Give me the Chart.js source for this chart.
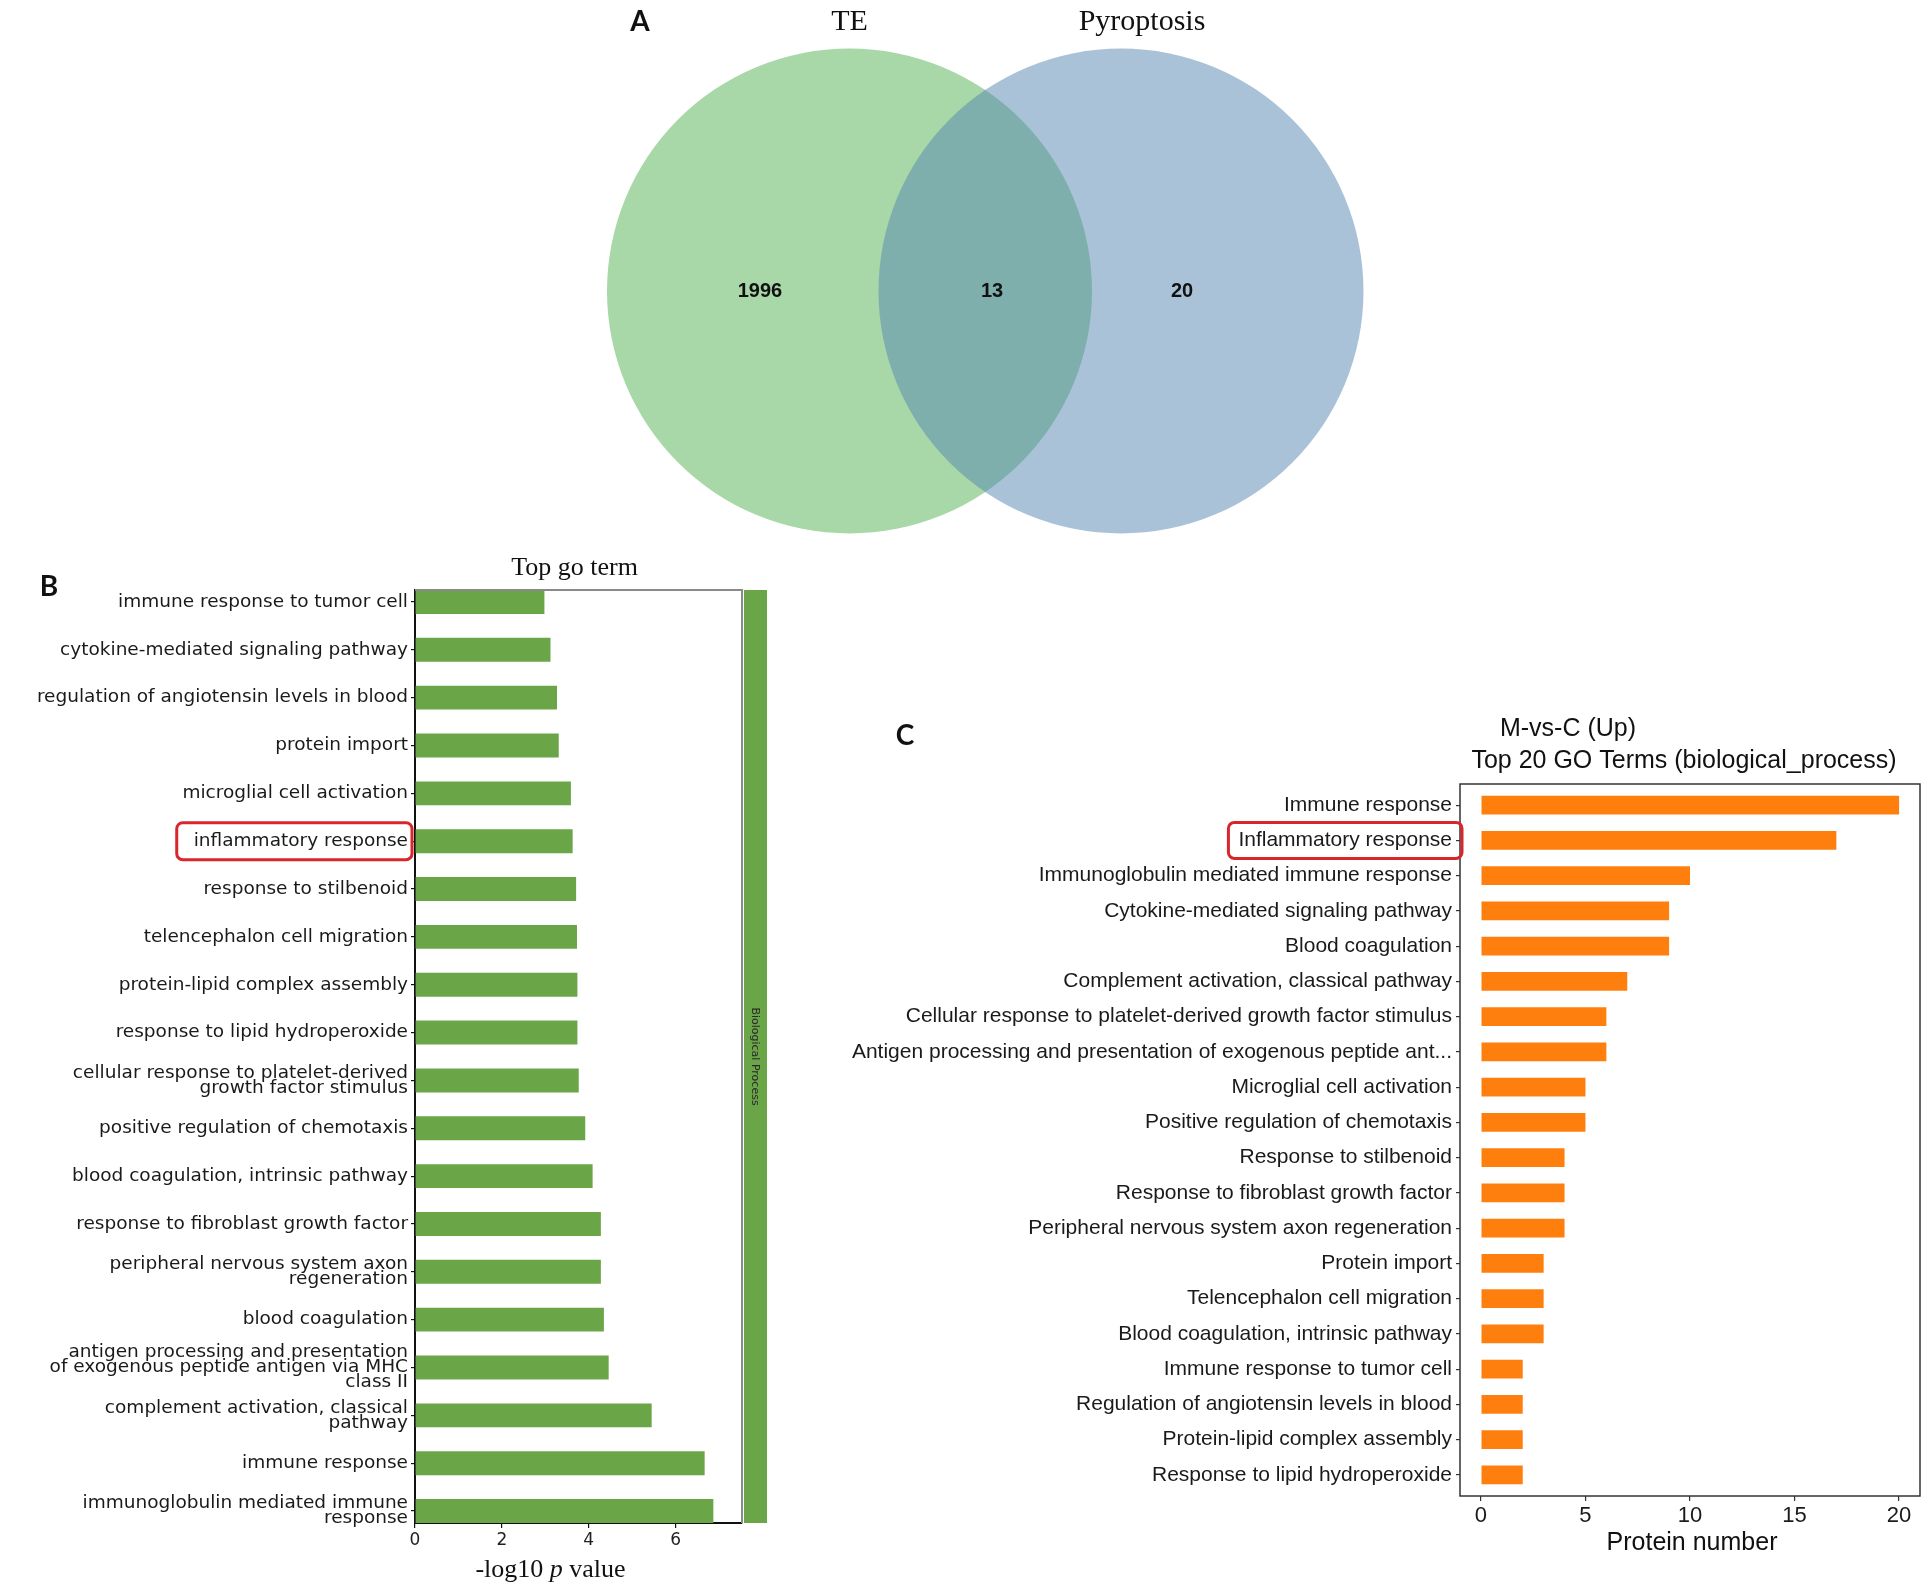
<!DOCTYPE html>
<html>
<head>
<meta charset="utf-8">
<script src="https://cdn.jsdelivr.net/npm/chart.js@4.4.1/dist/chart.umd.min.js"></script>
<style>
  html, body { margin: 0; padding: 0; background: #fff; }
  body { width: 1930px; height: 1584px; position: relative; overflow: hidden; }
  canvas { position: absolute; }
  #venn { left: 560px; top: 0; }
  #goB { left: 0; top: 540px; }
  #goC { left: 840px; top: 560px; }
</style>
</head>
<body>
<canvas id="venn" width="880" height="582"></canvas>
<canvas id="goB" width="800" height="1044"></canvas>
<canvas id="goC" width="1090" height="1024"></canvas>
<script>
// ---- data ----
const vennSets = ['TE', 'Pyroptosis'];
const vennCounts = [1996, 13, 20]; // TE only, both, Pyroptosis only

const goTermsB = [
  'immune response to tumor cell',
  'cytokine-mediated signaling pathway',
  'regulation of angiotensin levels in blood',
  'protein import',
  'microglial cell activation',
  'inflammatory response',
  'response to stilbenoid',
  'telencephalon cell migration',
  'protein-lipid complex assembly',
  'response to lipid hydroperoxide',
  ['cellular response to platelet-derived', 'growth factor stimulus'],
  'positive regulation of chemotaxis',
  'blood coagulation, intrinsic pathway',
  'response to fibroblast growth factor',
  ['peripheral nervous system axon', 'regeneration'],
  'blood coagulation',
  ['antigen processing and presentation', 'of exogenous peptide antigen via MHC', 'class II'],
  ['complement activation, classical', 'pathway'],
  'immune response',
  ['immunoglobulin mediated immune', 'response']
];
const logPB = [2.98, 3.12, 3.27, 3.31, 3.59, 3.63, 3.71, 3.73, 3.74, 3.74,
               3.77, 3.92, 4.09, 4.28, 4.28, 4.35, 4.46, 5.45, 6.67, 6.87];
const xTicksB = [0, 2, 4, 6];
const stripLabelB = 'Biological Process';

const goTermsC = [
  'Immune response',
  'Inflammatory response',
  'Immunoglobulin mediated immune response',
  'Cytokine-mediated signaling pathway',
  'Blood coagulation',
  'Complement activation, classical pathway',
  'Cellular response to platelet-derived growth factor stimulus',
  'Antigen processing and presentation of exogenous peptide ant...',
  'Microglial cell activation',
  'Positive regulation of chemotaxis',
  'Response to stilbenoid',
  'Response to fibroblast growth factor',
  'Peripheral nervous system axon regeneration',
  'Protein import',
  'Telencephalon cell migration',
  'Blood coagulation, intrinsic pathway',
  'Immune response to tumor cell',
  'Regulation of angiotensin levels in blood',
  'Protein-lipid complex assembly',
  'Response to lipid hydroperoxide'
];
const proteinsC = [20, 17, 10, 9, 9, 7, 6, 6, 5, 5, 4, 4, 4, 3, 3, 3, 2, 2, 2, 2];
const xTicksC = [0, 5, 10, 15, 20];

const highlightB = 'inflammatory response';
const highlightC = 'Inflammatory response';

const GREEN = '#6aa547';
const ORANGE = '#ff7f0e';
const RED = '#d8262c';
const fontB = '"DejaVu Sans", sans-serif';
const fontC = '"Liberation Sans", Arial, sans-serif';
const serif = '"Liberation Serif", "Times New Roman", serif';

function roundBox(ctx, x, y, w, h, r) {
  ctx.beginPath();
  ctx.moveTo(x + r, y);
  ctx.arcTo(x + w, y, x + w, y + h, r);
  ctx.arcTo(x + w, y + h, x, y + h, r);
  ctx.arcTo(x, y + h, x, y, r);
  ctx.arcTo(x, y, x + w, y, r);
  ctx.closePath();
  ctx.stroke();
}

// ---- A: venn ----
const vennText = {
  id: 'vennText',
  afterDraw(chart) {
    const { ctx } = chart;
    const xs = chart.scales.x, ys = chart.scales.y;
    ctx.save();
    ctx.fillStyle = '#111';
    ctx.textAlign = 'center';
    ctx.font = '30px ' + serif;
    ctx.textBaseline = 'alphabetic';
    ctx.fillText(vennSets[0], xs.getPixelForValue(0), 30);
    ctx.fillText(vennSets[1], xs.getPixelForValue(1) + 21, 30);
    ctx.font = 'bold 20px ' + fontC;
    ctx.textBaseline = 'middle';
    const lx = [-0.33, 0.525, 1.225];
    vennCounts.forEach((c, i) => ctx.fillText(String(c), xs.getPixelForValue(lx[i]), ys.getPixelForValue(0)));
    ctx.font = 'bold 28px Lato, sans-serif';
    ctx.fillText('A', 80, 22);
    ctx.restore();
  }
};

new Chart(document.getElementById('venn'), {
  type: 'scatter',
  data: {
    datasets: [
      { label: vennSets[0], data: [{ x: 0, y: 0 }], backgroundColor: '#a8d8a8', borderWidth: 0,
        pointRadius: 242.5, order: 2, clip: false },
      { label: vennSets[1], data: [{ x: 1, y: 0 }], backgroundColor: 'rgba(83,133,177,0.5)', borderWidth: 0,
        pointRadius: 242.5, order: 1, clip: false }
    ]
  },
  options: {
    responsive: false, animation: false, events: [],
    layout: { padding: 0, autoPadding: false },
    plugins: { legend: { display: false }, tooltip: { enabled: false } },
    scales: {
      x: { display: false, min: -1.0663, max: 2.175 },
      y: { display: false, min: -1, max: 1 }
    }
  },
  plugins: [vennText]
});

// ---- B: top go term ----
const panelB = {
  id: 'panelB',
  afterDraw(chart) {
    const { ctx, chartArea: a } = chart;
    const ys = chart.scales.y;
    ctx.save();
    ctx.strokeStyle = '#8a8a8a';
    ctx.lineWidth = 2;
    ctx.beginPath();
    ctx.moveTo(a.left, a.top); ctx.lineTo(a.right, a.top); ctx.lineTo(a.right, a.bottom);
    ctx.stroke();
    ctx.fillStyle = GREEN;
    ctx.fillRect(a.right + 2, a.top, 23, a.bottom - a.top);

    ctx.save();
    ctx.translate(a.right + 13, (a.top + a.bottom) / 2);
    ctx.rotate(Math.PI / 2);
    ctx.fillStyle = '#2a2a2a';
    ctx.font = '11px ' + fontB;
    ctx.textAlign = 'center';
    ctx.textBaseline = 'middle';
    ctx.fillText(stripLabelB, 0, 0);
    ctx.restore();

    ctx.fillStyle = '#111';
    ctx.textAlign = 'center';
    ctx.textBaseline = 'alphabetic';
    ctx.font = '26px ' + serif;
    ctx.fillText('Top go term', (a.left + a.right) / 2 - 4, a.top - 15);

    // axis title with italic p
    const parts = [['-log10 ', '26px '], ['p', 'italic 26px '], [' value', '26px ']];
    let total = 0;
    parts.forEach(p => { ctx.font = p[1] + serif; total += ctx.measureText(p[0]).width; });
    let x = (a.left + a.right) / 2 - 28 - total / 2;
    ctx.textAlign = 'left';
    parts.forEach(p => { ctx.font = p[1] + serif; ctx.fillText(p[0], x, a.bottom + 54); x += ctx.measureText(p[0]).width; });

    ctx.font = 'bold 28px Lato, sans-serif';
    ctx.textAlign = 'center';
    ctx.textBaseline = 'middle';
    ctx.fillText('B', 49, 47);

    const idx = goTermsB.indexOf(highlightB);
    const yc = ys.getPixelForValue(idx);
    ctx.font = '18.5px ' + fontB;
    const w = ctx.measureText(highlightB).width;
    const right = a.left - 3;
    const textRight = a.left - 4 - 3;
    ctx.strokeStyle = RED;
    ctx.lineWidth = 3;
    roundBox(ctx, textRight - w - 17, yc - 18.5, right - (textRight - w - 17), 37, 6);
    ctx.restore();
  }
};

new Chart(document.getElementById('goB'), {
  type: 'bar',
  data: {
    datasets: [{
      data: logPB.map((v, i) => ({ x: v, y: i })),
      backgroundColor: GREEN,
      barPercentage: 0.5,
      categoryPercentage: 1
    }]
  },
  options: {
    indexAxis: 'y',
    responsive: false, animation: false, events: [],
    layout: { padding: { top: 50, right: 58, left: 0, bottom: 0 }, autoPadding: false },
    plugins: { legend: { display: false }, tooltip: { enabled: false } },
    scales: {
      x: {
        type: 'linear', min: 0, max: 7.53,
        afterBuildTicks: s => { s.ticks = xTicksB.map(v => ({ value: v })); },
        afterFit: s => { s.height = 61; },
        ticks: { font: { family: fontB, size: 17 }, color: '#222', padding: 2 },
        grid: { drawOnChartArea: false, tickLength: 5, color: '#111', lineWidth: 1.2 },
        border: { color: '#111', width: 2 }
      },
      y: {
        type: 'linear', reverse: true, min: -0.25, max: 19.25, offset: false,
        afterBuildTicks: s => { s.ticks = goTermsB.map((_, i) => ({ value: i })); },
        afterFit: s => { s.width = 415; },
        ticks: {
          autoSkip: false,
          callback: v => goTermsB[v],
          font: { family: fontB, size: 18.5, lineHeight: 0.82 },
          color: '#1a1a1a', padding: 3
        },
        grid: { offset: false, drawOnChartArea: false, tickLength: 4, color: '#111', lineWidth: 1.2 },
        border: { color: '#111', width: 2 }
      }
    }
  },
  plugins: [panelB]
});

// ---- C: M-vs-C top 20 ----
const panelC = {
  id: 'panelC',
  afterDraw(chart) {
    const { ctx, chartArea: a } = chart;
    const ys = chart.scales.y;
    ctx.save();
    ctx.strokeStyle = '#333';
    ctx.lineWidth = 1.5;
    ctx.strokeRect(a.left, a.top, a.right - a.left, a.bottom - a.top);

    const cx = (a.left + a.right) / 2;
    ctx.fillStyle = '#111';
    ctx.textAlign = 'center';
    ctx.textBaseline = 'middle';
    ctx.font = '25px ' + fontC;
    ctx.fillText('M-vs-C (Up)', cx - 122, a.top - 55);
    ctx.fillText('Top 20 GO Terms (biological_process)', cx - 6, a.top - 23);
    ctx.fillText('Protein number', cx + 2, a.bottom + 47);

    ctx.font = 'bold 28px Lato, sans-serif';
    ctx.fillText('C', 65, 176);

    const idx = goTermsC.indexOf(highlightC);
    const yc = ys.getPixelForValue(idx);
    ctx.font = '21px ' + fontC;
    const w = ctx.measureText(highlightC).width;
    const textRight = a.left - 4 - 4;
    ctx.strokeStyle = RED;
    ctx.lineWidth = 3;
    roundBox(ctx, textRight - w - 10, yc - 18, w + 10 + 10, 36, 6);
    ctx.restore();
  }
};

new Chart(document.getElementById('goC'), {
  type: 'bar',
  data: {
    datasets: [{
      data: proteinsC.map((v, i) => ({ x: v, y: i })),
      backgroundColor: ORANGE,
      barPercentage: 0.53,
      categoryPercentage: 1
    }]
  },
  options: {
    indexAxis: 'y',
    responsive: false, animation: false, events: [],
    layout: { padding: { top: 224, right: 10, left: 0, bottom: 0 }, autoPadding: false },
    plugins: { legend: { display: false }, tooltip: { enabled: false } },
    scales: {
      x: {
        type: 'linear', min: -1, max: 21,
        afterBuildTicks: s => { s.ticks = xTicksC.map(v => ({ value: v })); },
        afterFit: s => { s.height = 88; },
        ticks: { font: { family: fontC, size: 22 }, color: '#1a1a1a', padding: 2 },
        grid: { drawOnChartArea: false, tickLength: 5, color: '#333', lineWidth: 1.2 },
        border: { display: false }
      },
      y: {
        type: 'linear', reverse: true, min: -0.6, max: 19.6, offset: false,
        afterBuildTicks: s => { s.ticks = goTermsC.map((_, i) => ({ value: i })); },
        afterFit: s => { s.width = 620; },
        ticks: {
          autoSkip: false,
          callback: v => goTermsC[v],
          font: { family: fontC, size: 21 },
          color: '#1a1a1a', padding: 4
        },
        grid: { offset: false, drawOnChartArea: false, tickLength: 4, color: '#333', lineWidth: 1.2 },
        border: { display: false }
      }
    }
  },
  plugins: [panelC]
});
</script>
</body>
</html>
